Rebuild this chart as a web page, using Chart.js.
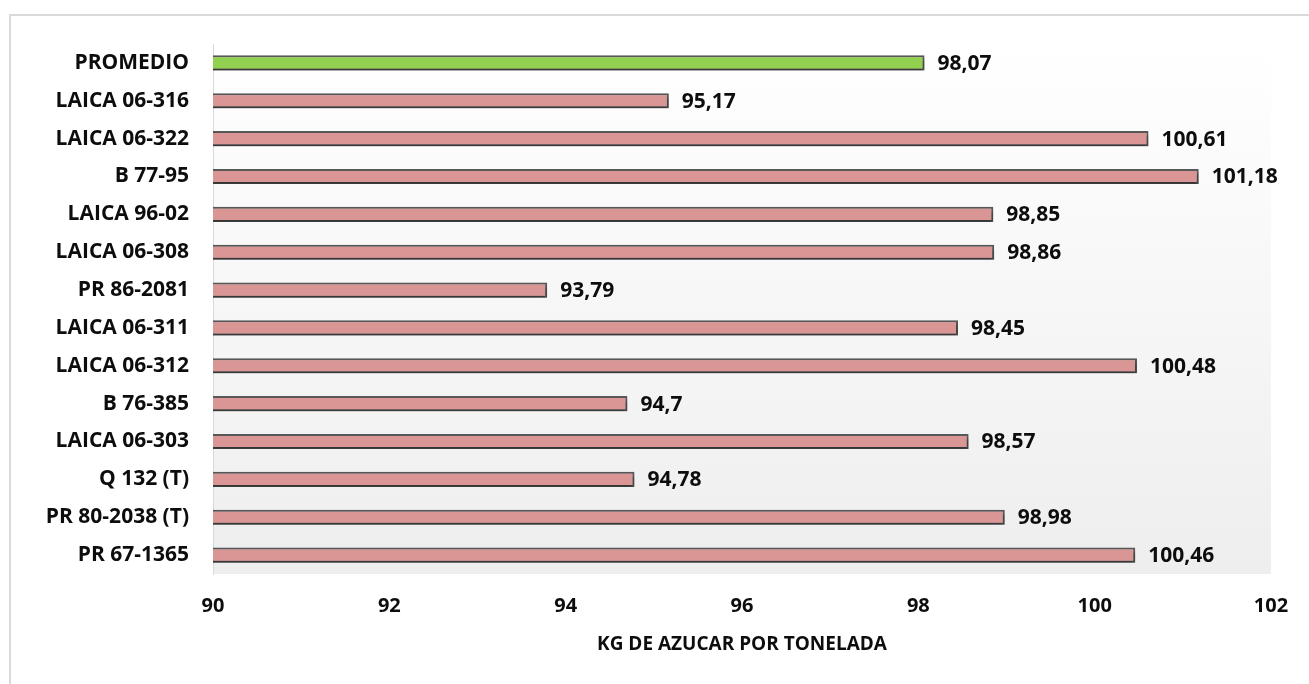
<!DOCTYPE html>
<html lang="es">
<head>
<meta charset="utf-8">
<title>Kg de azúcar por tonelada</title>
<script src="https://cdn.jsdelivr.net/npm/chart.js@4/dist/chart.umd.min.js"></script>
<style>
  html, body { margin: 0; padding: 0; background: #fff; }
  #wrap { position: relative; width: 1309px; height: 684px; }
</style>
</head>
<body>
<div id="wrap"><canvas id="azucarChart"></canvas></div>
<script>
// Variedades (de arriba hacia abajo) y kg de azúcar por tonelada
const variedades = [
  'PROMEDIO', 'LAICA 06-316', 'LAICA 06-322', 'B 77-95', 'LAICA 96-02',
  'LAICA 06-308', 'PR 86-2081', 'LAICA 06-311', 'LAICA 06-312', 'B 76-385',
  'LAICA 06-303', 'Q 132 (T)', 'PR 80-2038 (T)', 'PR 67-1365',
];
const kgPorTonelada = [
  98.07, 95.17, 100.61, 101.18, 98.85,
  98.86, 93.79, 98.45, 100.48, 94.7,
  98.57, 94.78, 98.98, 100.46,
];
const ejeMin = 90;
const ejeMax = 102;
const ejePaso = 2;
const tituloEje = 'KG DE AZUCAR POR TONELADA';

const FONT = '"Open Sans", "DejaVu Sans", sans-serif';
const TEXTO = '#0d0d0d';
const colorBarra = '#d99694';
const colorPromedio = '#92d050';

// marco gris alrededor del gráfico + fondo degradado del área de trazado
const fondoPlugin = {
  id: 'fondo',
  beforeDraw(chart) {
    const { ctx, chartArea: a } = chart;
    ctx.save();
    ctx.strokeStyle = '#d9d9d9';
    ctx.lineWidth = 2;
    ctx.strokeRect(10, 15, chart.width + 20, chart.height + 20);
    const g = ctx.createLinearGradient(0, a.top, 0, a.bottom);
    g.addColorStop(0, '#ffffff');
    g.addColorStop(1, '#eeeeee');
    ctx.fillStyle = g;
    ctx.fillRect(a.left, a.top, a.right - a.left, a.bottom - a.top);
    ctx.restore();
  },
};

// sombra suave debajo de las barras
const sombraPlugin = {
  id: 'sombra',
  beforeDatasetDraw(chart) {
    const ctx = chart.ctx;
    ctx.save();
    ctx.shadowColor = 'rgba(0,0,0,0.45)';
    ctx.shadowBlur = 4;
    ctx.shadowOffsetX = 1;
    ctx.shadowOffsetY = 3;
  },
  afterDatasetDraw(chart) {
    chart.ctx.restore();
  },
};

// etiqueta con el valor a la derecha de cada barra
const valoresPlugin = {
  id: 'valores',
  afterDatasetsDraw(chart) {
    const { ctx } = chart;
    const meta = chart.getDatasetMeta(0);
    ctx.save();
    ctx.font = 'bold 21px ' + FONT;
    ctx.fillStyle = TEXTO;
    ctx.textAlign = 'left';
    ctx.textBaseline = 'middle';
    meta.data.forEach((bar, i) => {
      const txt = String(kgPorTonelada[i]).replace('.', ',');
      ctx.fillText(txt, bar.x + 13, bar.y + 1);
    });
    ctx.restore();
  },
};

new Chart(document.getElementById('azucarChart'), {
  type: 'bar',
  data: {
    labels: variedades,
    datasets: [{
      data: kgPorTonelada,
      backgroundColor: variedades.map((v, i) => i === 0 ? colorPromedio : colorBarra),
      borderColor: '#595959',
      borderWidth: 2,
      borderSkipped: false,
      barPercentage: 0.4,
      categoryPercentage: 1,
    }],
  },
  options: {
    indexAxis: 'y',
    responsive: true,
    maintainAspectRatio: false,
    animation: false,
    layout: { padding: { top: 44, right: 38, bottom: 28, left: 0 } },
    plugins: {
      legend: { display: false },
      tooltip: { enabled: false },
    },
    scales: {
      x: {
        min: ejeMin,
        max: ejeMax,
        ticks: {
          stepSize: ejePaso,
          padding: 20,
          color: TEXTO,
          font: { family: FONT, size: 20, weight: 'bold' },
        },
        grid: { display: false, drawTicks: false },
        border: { display: false },
        title: {
          display: true,
          text: tituloEje,
          color: TEXTO,
          padding: { top: 10, bottom: 0 },
          font: { family: FONT, size: 19, weight: 'bold' },
        },
        afterFit(scale) { scale.height = 82; },
      },
      y: {
        ticks: {
          padding: 24,
          color: TEXTO,
          font: { family: FONT, size: 21, weight: 'bold' },
        },
        grid: { display: false, drawTicks: false },
        border: { display: true, color: '#d9d9d9', width: 1 },
        afterFit(scale) { scale.width = 213; },
      },
    },
  },
  plugins: [fondoPlugin, sombraPlugin, valoresPlugin],
});
</script>
</body>
</html>
